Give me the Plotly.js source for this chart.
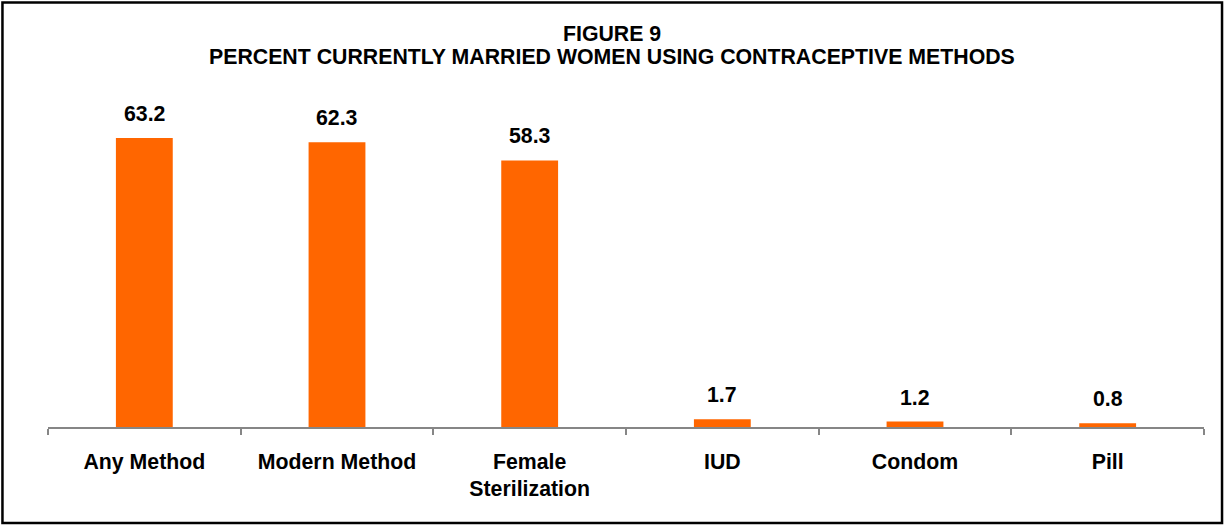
<!DOCTYPE html>
<html>
<head>
<meta charset="utf-8">
<script src="https://cdn.plot.ly/plotly-3.0.1.min.js"></script>
<style>
html, body { margin: 0; padding: 0; background: #fff; }
#chart { width: 1225px; height: 526px; }
</style>
</head>
<body>
<div id="chart"></div>
<script>
var categories = ["Any Method", "Modern Method", "Female<br>Sterilization", "IUD", "Condom", "Pill"];
var values = [63.2, 62.3, 58.3, 1.7, 1.2, 0.8];
var valueLabels = ["63.2", "62.3", "58.3", "1.7", "1.2", "0.8"];
var titleLine1 = "FIGURE 9";
var titleLine2 = "PERCENT CURRENTLY MARRIED WOMEN USING CONTRACEPTIVE METHODS";

var FONT = "Liberation Sans, Arial, sans-serif";
var FS = 21.3;

var trace = {
  type: "bar",
  x: categories,
  y: values,
  marker: { color: "#FF6600", line: { width: 0 } },
  hoverinfo: "x+y"
};

var annotations = categories.map(function (c, i) {
  return {
    x: c, y: values[i], xref: "x", yref: "y",
    text: "<b>" + valueLabels[i] + "</b>",
    showarrow: false, yanchor: "bottom", yshift: 10,
    font: { family: FONT, size: FS, color: "#000" }
  };
});
annotations.push({
  xref: "paper", yref: "paper", x: 0.4883, y: 1.2266, yanchor: "middle", xanchor: "center",
  text: "<b>" + titleLine1 + "</b>", showarrow: false,
  font: { family: FONT, size: FS, color: "#000" }
});
annotations.push({
  xref: "paper", yref: "paper", x: 0.4883, y: 1.156, yanchor: "middle", xanchor: "center",
  text: "<b>" + titleLine2 + "</b>", showarrow: false,
  font: { family: FONT, size: FS, color: "#000" }
});

var layout = {
  width: 1225, height: 526,
  margin: { l: 48, r: 21, t: 107, b: 99, pad: 0 },
  paper_bgcolor: "#fff", plot_bgcolor: "#fff",
  showlegend: false,
  bargap: 0.705,
  font: { family: FONT, size: FS, color: "#000" },
  title: { text: "" },
  xaxis: {
    type: "category",
    showline: true, linecolor: "#868686", linewidth: 2,
    ticks: "outside", tickson: "boundaries", ticklen: 6, tickwidth: 2, tickcolor: "#868686",
    ticklabelstandoff: 14,
    tickfont: { family: FONT, size: FS, color: "#000" },
    tickprefix: "<b>", ticksuffix: "</b>",
    showgrid: false, zeroline: false, fixedrange: true
  },
  yaxis: {
    range: [0, 70],
    visible: false, showgrid: false, zeroline: false, fixedrange: true
  },
  annotations: annotations,
  shapes: [{
    type: "rect", xref: "paper", yref: "paper",
    x0: -0.0394, x1: 1.0156, y0: -0.3, y1: 1.3266,
    line: { color: "#000", width: 2.5 }, fillcolor: "rgba(0,0,0,0)", layer: "above"
  }]
};

Plotly.newPlot("chart", [trace], layout, { displayModeBar: false, staticPlot: true });
</script>
</body>
</html>
